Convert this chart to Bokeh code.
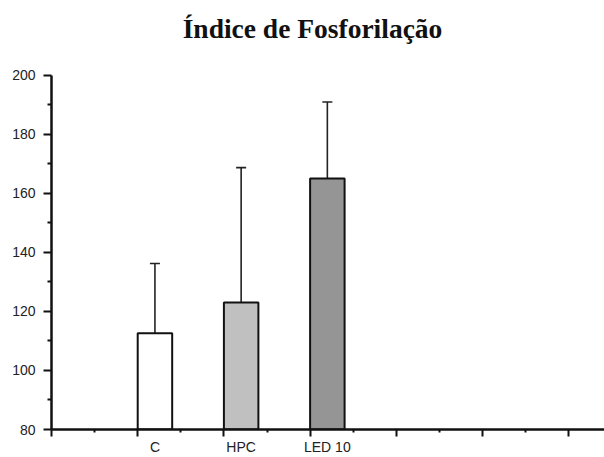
from bokeh.plotting import figure
from bokeh.models import LinearAxis, FixedTicker, Range1d, Whisker, TeeHead, ColumnDataSource, Label
from bokeh.embed import file_html
from bokeh.resources import INLINE

title_text = "Índice de Fosforilação"
categories = ["C", "HPC", "LED 10"]
means = [112.6, 123.0, 165.0]
errors = [23.6, 45.7, 25.9]
fills = ["#ffffff", "#c0c0c0", "#959595"]
y_ticks = [80, 100, 120, 140, 160, 180, 200]
y_minor = [90, 110, 130, 150, 170, 190]
x_major = [0, 1, 2, 3, 4, 5, 6]
x_minor = [0.5, 1.5, 2.5, 3.5, 4.5, 5.5]

slots = [i + 1 for i in range(len(categories))]
centers = [s + 0.2 for s in slots]
uppers = [m + e for m, e in zip(means, errors)]

W, H = 604, 457
BL, BB = 51, 26
AXIS_TOP_PX = 75                      # pixel row of the 200 tick
frame_h = H - BB
px_per_unit = (frame_h - AXIS_TOP_PX) / (y_ticks[-1] - y_ticks[0])
y_end = y_ticks[0] + frame_h / px_per_unit   # frame reaches the top so the title sits inside it

p = figure(width=W, height=H, output_backend="svg", toolbar_location=None,
           x_axis_type=None, y_axis_type=None,
           x_range=Range1d(0, 6.415), y_range=Range1d(y_ticks[0], y_end),
           min_border_left=BL, min_border_right=0, min_border_top=0, min_border_bottom=BB)
p.outline_line_color = None
p.background_fill_color = "white"
p.border_fill_color = "white"

p.add_layout(Label(x=312 - BL, y=frame_h - 30, x_units="screen", y_units="screen", text=title_text,
                   text_font="Liberation Serif", text_font_style="bold", text_font_size="27.5px",
                   text_color="#111111", text_align="center", text_baseline="middle"))

src = ColumnDataSource(dict(x=centers, top=means, upper=uppers, fill=fills))
p.vbar(x="x", top="top", bottom=y_ticks[0], width=0.4, source=src, fill_color="fill",
       line_color="#111111", line_width=2)
p.add_layout(Whisker(source=src, base="x", lower="top", upper="upper",
                     line_color="#222222", line_width=1.6,
                     upper_head=TeeHead(size=10, line_color="#222222", line_width=1.6),
                     lower_head=None))

yaxis = LinearAxis(ticker=FixedTicker(ticks=y_ticks, minor_ticks=y_minor),
                   bounds=(y_ticks[0], y_ticks[-1]))
yaxis.axis_line_width = 2.5
yaxis.axis_line_color = "#111111"
yaxis.major_tick_line_width = 2
yaxis.minor_tick_line_width = 2
yaxis.major_tick_line_color = "#111111"
yaxis.minor_tick_line_color = "#111111"
yaxis.major_tick_out = 8
yaxis.major_tick_in = 0
yaxis.minor_tick_out = 4
yaxis.minor_tick_in = 0
yaxis.major_label_standoff = 8
yaxis.major_label_text_font = "Liberation Sans"
yaxis.major_label_text_font_size = "14px"
yaxis.major_label_text_color = "#222222"
p.add_layout(yaxis, "left")

xaxis = LinearAxis(ticker=FixedTicker(ticks=x_major, minor_ticks=x_minor),
                   major_label_overrides={t: "" for t in x_major})
xaxis.axis_line_width = 2.5
xaxis.axis_line_color = "#111111"
xaxis.major_tick_line_width = 2
xaxis.minor_tick_line_width = 2
xaxis.major_tick_line_color = "#111111"
xaxis.minor_tick_line_color = "#111111"
xaxis.major_tick_out = 7
xaxis.major_tick_in = 0
xaxis.minor_tick_out = 3
xaxis.minor_tick_in = 0
xaxis.major_label_standoff = 0
xaxis.major_label_text_font_size = "1px"
p.add_layout(xaxis, "below")

laxis = LinearAxis(ticker=FixedTicker(ticks=centers, minor_ticks=[]),
                   major_label_overrides={c: t for c, t in zip(centers, categories)})
laxis.axis_line_color = None
laxis.major_tick_line_color = None
laxis.minor_tick_line_color = None
laxis.major_tick_out = 0
laxis.major_tick_in = 0
laxis.major_label_standoff = 2
laxis.major_label_text_font = "Liberation Sans"
laxis.major_label_text_font_size = "14px"
laxis.major_label_text_color = "#222222"
p.add_layout(laxis, "below")

open("out.html", "w").write(file_html(p, INLINE))
